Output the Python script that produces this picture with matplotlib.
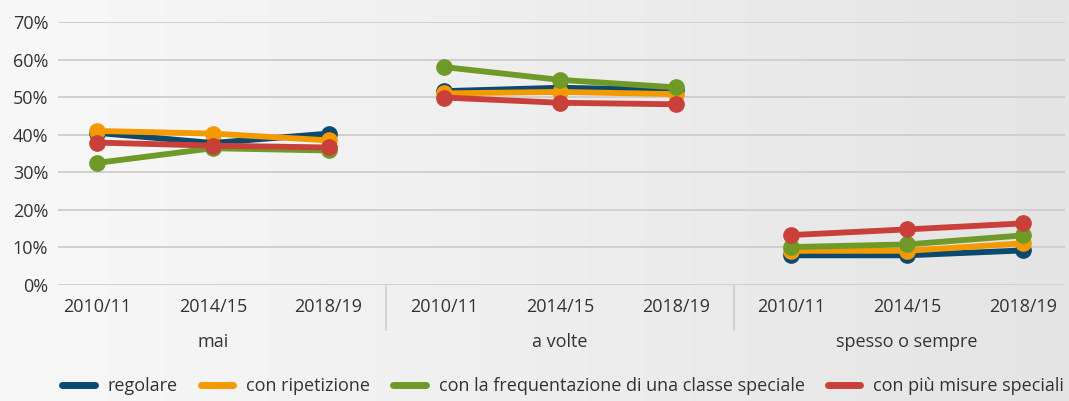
import matplotlib
matplotlib.use('Agg')
import matplotlib.pyplot as plt
import matplotlib.transforms as mtransforms
import numpy as np
from matplotlib.lines import Line2D

# ---- data ----
groups = ['mai', 'a volte', 'spesso o sempre']
years = ['2010/11', '2014/15', '2018/19']
series_names = ['regolare', 'con ripetizione',
                'con la frequentazione di una classe speciale',
                'con più misure speciali']
regolare = [40.5, 37.8, 40.3, 51.6, 52.5, 51.9, 7.9, 7.9, 9.2]
ripetizione = [41.0, 40.3, 38.5, 51.0, 51.4, 50.8, 9.1, 9.1, 11.1]
classe_speciale = [32.5, 36.4, 35.8, 58.0, 54.6, 52.6, 10.1, 10.8, 13.2]
piu_misure = [37.9, 37.1, 36.6, 49.9, 48.5, 48.1, 13.3, 14.8, 16.4]
y_ticks = [0, 10, 20, 30, 40, 50, 60, 70]

series = [regolare, ripetizione, classe_speciale, piu_misure]
colors = ['#0b4a6e', '#f39a00', '#6f9a27', '#c9403a']
txt_color = '#333333'
grid_color = '#cdcdcd'

plt.rcParams['font.family'] = ['Open Sans', 'DejaVu Sans']
FS = 13

W, H = 1069, 401
fig = plt.figure(figsize=(W / 100, H / 100), dpi=100)

# background gradient
bg = fig.add_axes([0, 0, 1, 1], zorder=-10)
grad = np.linspace(0, 1, 256)[None, :]
from matplotlib.colors import LinearSegmentedColormap
cmap = LinearSegmentedColormap.from_list('bg', ['#f8f8f8', '#e4e4e4'])
bg.imshow(grad, aspect='auto', cmap=cmap, extent=[0, 1, 0, 1])
bg.set_axis_off()

left_px, right_px, top_px, bottom_px = 58, 1065, 22, 285
ax = fig.add_axes([left_px / W, (H - bottom_px) / H,
                   (right_px - left_px) / W, (bottom_px - top_px) / H])
ax.set_facecolor('none')

n_years = len(years)
for vals, col, name in zip(series, colors, series_names):
    for g in range(len(groups)):
        xs = np.arange(g * n_years, (g + 1) * n_years)
        ys = vals[g * n_years:(g + 1) * n_years]
        ax.plot(xs, ys, color=col, lw=4.2, marker='o', markersize=11,
                solid_capstyle='round', zorder=3)

ax.set_ylim(0, 70)
ax.set_xlim(-0.337, 8.363)
ax.set_yticks(y_ticks)
ax.set_yticklabels([f'{v}%' for v in y_ticks])
ax.yaxis.grid(True, color=grid_color, lw=1.3)
ax.set_axisbelow(True)
ax.set_xticks(range(len(groups) * n_years))
ax.set_xticklabels(years * len(groups))
ax.tick_params(axis='both', length=0, labelsize=FS, labelcolor=txt_color)
ax.tick_params(axis='x', pad=9)
ax.tick_params(axis='y', pad=7)
for s in ax.spines.values():
    s.set_visible(False)

# group separators
trans = mtransforms.blended_transform_factory(ax.transData, ax.transAxes)
sep_bottom = -(330 - bottom_px) / (bottom_px - top_px)
for g in range(1, len(groups)):
    xsep = g * n_years - 0.5
    ax.add_line(Line2D([xsep, xsep], [0, sep_bottom], transform=trans,
                       color=grid_color, lw=1.2, clip_on=False))

# group labels
for g, name in enumerate(groups):
    ax.text(g * n_years + 1, -(342 - bottom_px) / (bottom_px - top_px), name,
            transform=trans, ha='center', va='center', fontsize=FS,
            color=txt_color)

# legend
handles = [Line2D([0], [0], color=c, lw=5, solid_capstyle='round') for c in colors]
leg = fig.legend(handles, series_names, loc='center', ncol=4, frameon=False,
                 bbox_to_anchor=(563 / W, 1 - 386 / H), fontsize=FS,
                 handlelength=1.8, handletextpad=0.7, columnspacing=1.3,
                 labelcolor=txt_color)

fig.savefig('out.png', dpi=100)
